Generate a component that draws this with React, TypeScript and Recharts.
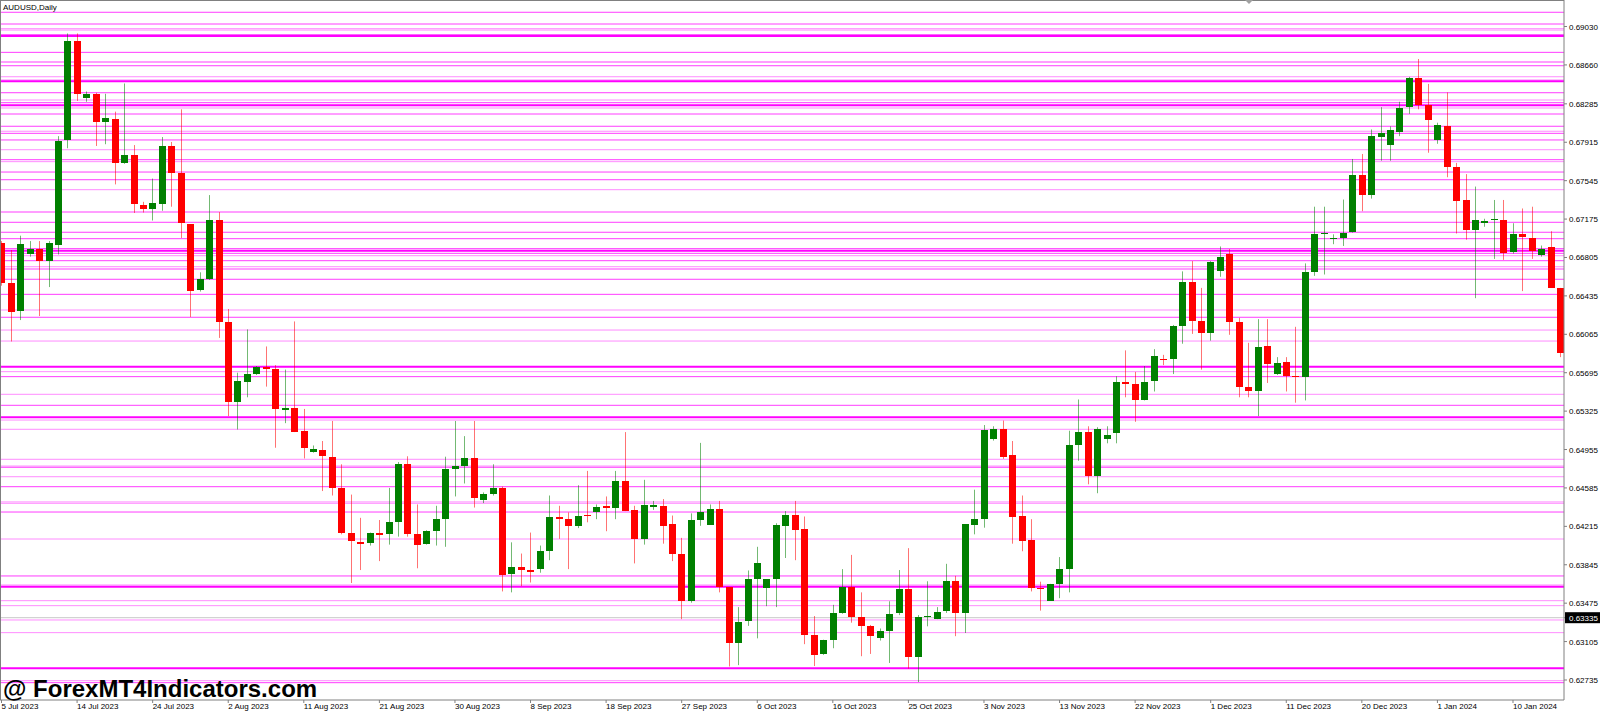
import React from 'react';
import { Bar, ComposedChart, ReferenceLine, XAxis, YAxis } from 'recharts';

// AUDUSD daily candles, one per bar (Sunday bars included)
const opens = [
  0.66942, 0.66563, 0.66288, 0.66834, 0.66886, 0.6677, 0.66933, 0.67931, 0.68889, 0.68339,
  0.68382, 0.68103, 0.68141, 0.67716, 0.67789, 0.67307, 0.67268, 0.67324, 0.67879, 0.67617,
  0.67126, 0.66499, 0.66602, 0.67169, 0.66185, 0.65419, 0.65613, 0.65682, 0.65746, 0.65733,
  0.65342, 0.65359, 0.65131, 0.64934, 0.64951, 0.64886, 0.64585, 0.64147, 0.64065, 0.64052,
  0.64155, 0.64142, 0.64254, 0.64813, 0.64138, 0.64039, 0.64168, 0.64284, 0.6477, 0.648,
  0.64873, 0.64469, 0.64525, 0.64585, 0.63751, 0.6382, 0.6379, 0.63803, 0.63975, 0.64306,
  0.64284, 0.6422, 0.64323, 0.64353, 0.64413, 0.64396, 0.64654, 0.6437, 0.64095, 0.64396,
  0.64413, 0.64233, 0.63944, 0.63493, 0.64271, 0.64233, 0.64383, 0.63631, 0.63093, 0.63295,
  0.63704, 0.63622, 0.63704, 0.64224, 0.64327, 0.6419, 0.63166, 0.62986, 0.63123, 0.63385,
  0.63631, 0.63338, 0.63252, 0.63145, 0.63213, 0.63373, 0.63609, 0.62951, 0.63338, 0.6333,
  0.63394, 0.63686, 0.63373, 0.64233, 0.64289, 0.65062, 0.65157, 0.64899, 0.6431, 0.64082,
  0.63622, 0.63502, 0.63661, 0.63803, 0.64994, 0.65123, 0.64706, 0.65058, 0.65114, 0.65609,
  0.65587, 0.65432, 0.65609, 0.65824, 0.65824, 0.66146, 0.66567, 0.66189, 0.66077, 0.66675,
  0.66834, 0.6618, 0.65557, 0.65523, 0.65953, 0.65682, 0.65798, 0.6566, 0.65652, 0.66662,
  0.67028, 0.66985, 0.66997, 0.67049, 0.67595, 0.67406, 0.67974, 0.67888, 0.68017, 0.68249,
  0.68533, 0.6827, 0.67939, 0.68072, 0.67673, 0.67359, 0.67066, 0.67144, 0.67165, 0.67169,
  0.66856, 0.67028, 0.66997, 0.66834, 0.66907, 0.66512,
];
const highs = [
  0.66963, 0.66877, 0.67015, 0.66963, 0.66963, 0.66963, 0.67974, 0.68963, 0.68963, 0.68404,
  0.68391, 0.68382, 0.6821, 0.68481, 0.67888, 0.67341, 0.67565, 0.67965, 0.67918, 0.68232,
  0.67126, 0.66662, 0.67406, 0.67242, 0.66309, 0.65695, 0.66112, 0.65759, 0.65948, 0.65768,
  0.65725, 0.66189, 0.65346, 0.64994, 0.65037, 0.6523, 0.64813, 0.64521, 0.64297, 0.64155,
  0.64276, 0.64585, 0.64835, 0.6489, 0.64426, 0.64177, 0.64413, 0.64886, 0.6523, 0.65084,
  0.6523, 0.64542, 0.64813, 0.64598, 0.64061, 0.63953, 0.64155, 0.6403, 0.64512, 0.64413,
  0.64349, 0.64611, 0.64749, 0.64426, 0.64503, 0.64749, 0.65123, 0.64413, 0.64663, 0.6446,
  0.64478, 0.64319, 0.64104, 0.6434, 0.65019, 0.64426, 0.6446, 0.63631, 0.63437, 0.6379,
  0.64018, 0.63704, 0.64245, 0.64362, 0.6446, 0.6431, 0.63351, 0.63123, 0.63459, 0.63803,
  0.6394, 0.63579, 0.63265, 0.63231, 0.63493, 0.63794, 0.64005, 0.6336, 0.63686, 0.63437,
  0.63854, 0.63738, 0.64233, 0.64568, 0.65191, 0.65179, 0.65234, 0.65037, 0.64512, 0.64284,
  0.63682, 0.63661, 0.63919, 0.65136, 0.65437, 0.65179, 0.6517, 0.65179, 0.6566, 0.6591,
  0.65703, 0.65759, 0.65922, 0.65867, 0.66155, 0.66671, 0.6677, 0.66512, 0.6677, 0.66911,
  0.66886, 0.66223, 0.65983, 0.66211, 0.66211, 0.65845, 0.65845, 0.66137, 0.66748, 0.67294,
  0.67294, 0.67028, 0.67363, 0.67754, 0.67802, 0.68038, 0.68253, 0.68068, 0.68305, 0.68545,
  0.68717, 0.68477, 0.68103, 0.68395, 0.67716, 0.67608, 0.67488, 0.67178, 0.67359, 0.67359,
  0.67135, 0.67277, 0.67294, 0.6692, 0.67058, 0.66512,
];
const lows = [
  0.66533, 0.65996, 0.66202, 0.66813, 0.66241, 0.6652, 0.66834, 0.67857, 0.68313, 0.68305,
  0.67879, 0.67896, 0.67509, 0.67707, 0.67234, 0.67238, 0.67161, 0.67255, 0.67294, 0.66993,
  0.66232, 0.66477, 0.66589, 0.6603, 0.65277, 0.65148, 0.65458, 0.65673, 0.65561, 0.64972,
  0.65209, 0.65123, 0.64869, 0.64925, 0.64555, 0.64512, 0.64138, 0.63669, 0.63794, 0.6403,
  0.6388, 0.64039, 0.64116, 0.64116, 0.63811, 0.64039, 0.6403, 0.64018, 0.64503, 0.64628,
  0.64396, 0.64439, 0.64512, 0.63588, 0.63579, 0.63639, 0.63674, 0.63768, 0.63889, 0.64095,
  0.63803, 0.64198, 0.64254, 0.64284, 0.64168, 0.64284, 0.64362, 0.63858, 0.64039, 0.64374,
  0.64048, 0.6388, 0.63321, 0.6348, 0.6422, 0.64233, 0.63579, 0.62865, 0.62878, 0.63256,
  0.63136, 0.63446, 0.63437, 0.6391, 0.63889, 0.6308, 0.62869, 0.62977, 0.63041, 0.63373,
  0.63287, 0.62964, 0.62986, 0.63115, 0.62899, 0.6336, 0.62844, 0.62715, 0.63252, 0.63321,
  0.63381, 0.63157, 0.63188, 0.64138, 0.64202, 0.65041, 0.64865, 0.64048, 0.63975, 0.63588,
  0.63403, 0.63502, 0.63523, 0.63579, 0.64847, 0.6462, 0.64534, 0.65015, 0.65015, 0.65458,
  0.65222, 0.65428, 0.65514, 0.65768, 0.65682, 0.65974, 0.66069, 0.65725, 0.66004, 0.66619,
  0.6606, 0.65458, 0.65458, 0.65277, 0.65596, 0.65673, 0.65514, 0.65406, 0.65428, 0.66628,
  0.66641, 0.66933, 0.66916, 0.67045, 0.67251, 0.67372, 0.67737, 0.67737, 0.67974, 0.68189,
  0.68232, 0.67814, 0.679, 0.67578, 0.67036, 0.66976, 0.66413, 0.67101, 0.66791, 0.66782,
  0.66843, 0.66481, 0.66791, 0.66813, 0.66512, 0.65845,
];
const closes = [
  0.66555, 0.66288, 0.66933, 0.66886, 0.6677, 0.66942, 0.67931, 0.68889, 0.68382, 0.68382,
  0.68111, 0.68146, 0.6772, 0.67789, 0.67316, 0.67264, 0.67329, 0.67879, 0.67617, 0.67131,
  0.66477, 0.66602, 0.67169, 0.66185, 0.65419, 0.65617, 0.65686, 0.65746, 0.65729, 0.65346,
  0.65359, 0.65131, 0.64964, 0.64959, 0.6489, 0.64585, 0.64147, 0.64073, 0.64048, 0.64147,
  0.64138, 0.64254, 0.64813, 0.64138, 0.6403, 0.64168, 0.64284, 0.64766, 0.648, 0.64873,
  0.6449, 0.64525, 0.64585, 0.63751, 0.6382, 0.6379, 0.63768, 0.63975, 0.64306, 0.64284,
  0.6422, 0.64314, 0.6431, 0.64405, 0.64396, 0.64654, 0.64362, 0.64095, 0.64422, 0.64418,
  0.6422, 0.6394, 0.63493, 0.64276, 0.64349, 0.64383, 0.63631, 0.63093, 0.63295, 0.63704,
  0.63858, 0.63704, 0.64224, 0.64327, 0.64181, 0.63166, 0.62977, 0.63123, 0.63385, 0.63631,
  0.63338, 0.63256, 0.63157, 0.63209, 0.63373, 0.63609, 0.62951, 0.63338, 0.63351, 0.63394,
  0.63686, 0.63373, 0.64233, 0.64289, 0.65144, 0.65157, 0.64886, 0.64306, 0.64073, 0.63622,
  0.63609, 0.63661, 0.63803, 0.64994, 0.65123, 0.64697, 0.65157, 0.65093, 0.65609, 0.65587,
  0.65432, 0.65609, 0.65854, 0.65811, 0.66146, 0.66567, 0.66189, 0.66077, 0.66765, 0.66813,
  0.6618, 0.65557, 0.65523, 0.65944, 0.65781, 0.65789, 0.6566, 0.65647, 0.66662, 0.67028,
  0.6704, 0.66993, 0.67045, 0.67595, 0.67406, 0.67974, 0.68008, 0.68029, 0.68249, 0.68533,
  0.6827, 0.68124, 0.68081, 0.67673, 0.6735, 0.67066, 0.67165, 0.67161, 0.67174, 0.66847,
  0.67028, 0.66997, 0.66869, 0.6689, 0.66512, 0.65888,
];

// date axis: bar index -> label
const dateTickBars = [0, 8, 16, 24, 32, 40, 48, 56, 64, 72, 80, 88, 96, 104, 112, 120, 128, 136, 144, 152, 160];
const dateTickLabels = [
  '5 Jul 2023', '14 Jul 2023', '24 Jul 2023', '2 Aug 2023', '11 Aug 2023', '21 Aug 2023',
  '30 Aug 2023', '8 Sep 2023', '18 Sep 2023', '27 Sep 2023', '6 Oct 2023', '16 Oct 2023',
  '25 Oct 2023', '3 Nov 2023', '13 Nov 2023', '22 Nov 2023', '1 Dec 2023', '11 Dec 2023',
  '20 Dec 2023', '1 Jan 2024', '10 Jan 2024',
];

const priceTicks = [
  0.6903, 0.6866, 0.68285, 0.67915, 0.67545, 0.67175, 0.66805, 0.66435, 0.66065,
  0.65695, 0.65325, 0.64955, 0.64585, 0.64215, 0.63845, 0.63475, 0.63105, 0.62735,
];
const currentPrice = 0.63335;

// horizontal level lines
const boldLevels = [0.68939, 0.68502, 0.68271, 0.6687, 0.65753, 0.65265, 0.63634, 0.62848];
const mainLevels = [
  0.69167, 0.69054, 0.68951, 0.68781, 0.68688, 0.68652, 0.68392, 0.68296, 0.68187, 0.68069,
  0.68001, 0.67937, 0.67747, 0.67628, 0.67554, 0.67243, 0.67144, 0.67048, 0.66986, 0.6689,
  0.66845, 0.66774, 0.66694, 0.66595, 0.6645, 0.66229, 0.65657, 0.65381, 0.64784, 0.64597,
  0.64353, 0.63737, 0.62709,
];
const paleLevels = [
  0.69009, 0.68996, 0.68546, 0.68515, 0.68322, 0.68245, 0.68021, 0.67843, 0.67728, 0.67458,
  0.66822, 0.66716, 0.66299, 0.66106, 0.66, 0.65705, 0.65487, 0.65239, 0.6515, 0.64861,
  0.64796, 0.64693, 0.6445, 0.64437, 0.64093, 0.6365, 0.63499, 0.63451, 0.63313, 0.63191,
  0.62728,
];

const data = opens.map((o, i) => ({ i, open: o, high: highs[i], low: lows[i], close: closes[i] }));

const FONT = "'Liberation Sans', Arial, sans-serif";
const W = 1600;
const H = 713;

const Candle = (props: any) => {
  const { x, y, width, height, payload } = props;
  if (x == null || y == null || !payload) return null;
  const { open, close, high, low } = payload;
  const top = Math.min(y, y + height);
  const h = Math.abs(height);
  const span = high - low || 1e-9;
  const toY = (v: number) => top + ((high - v) / span) * h;
  const color = close >= open ? '#008000' : '#ff0000';
  const cx = Math.round(x + width / 2);
  const yo = toY(open);
  const yc = toY(close);
  const bodyTop = Math.round(Math.min(yo, yc));
  const bodyH = Math.max(1, Math.round(Math.abs(yc - yo)));
  return (
    <g>
      <line x1={cx + 0.5} x2={cx + 0.5} y1={top} y2={top + h} stroke={color} strokeOpacity={0.55} />
      <rect x={cx - 3} y={bodyTop} width={7} height={bodyH} fill={color} />
    </g>
  );
};

const PriceTick = ({ x, y, payload }: any) => {
  const v = Number(payload?.value);
  if (Math.abs(v - currentPrice) < 1e-7) {
    return (
      <g>
        <rect x={x - 4} y={y - 5.5} width={W - x + 4} height={11} fill="#000" />
        <text x={x} y={y + 3} fill="#fff" fontSize={8} fontFamily={FONT}>{v.toFixed(5)}</text>
      </g>
    );
  }
  return (
    <text x={x} y={y + 3} fill="#000" fontSize={8} fontFamily={FONT}>{v.toFixed(5)}</text>
  );
};

const DateTick = ({ x, y, payload }: any) => {
  const idx = dateTickBars.indexOf(Number(payload?.value));
  return (
    <text x={x} y={y + 6} fill="#000" fontSize={8} fontFamily={FONT} textAnchor="start">
      {idx >= 0 ? dateTickLabels[idx] : ''}
    </text>
  );
};

export default function App() {
  return (
    <div style={{ position: 'relative', width: W, height: H, background: '#fff', overflow: 'hidden' }}>
      <style>{'body{margin:0}'}</style>
      <ComposedChart width={W} height={H} data={data} margin={{ top: 0, right: 0, bottom: 0, left: 0 }}>
        <XAxis
          dataKey="i"
          type="number"
          domain={[-0.16, 165.4]}
          allowDataOverflow
          ticks={dateTickBars}
          interval={0}
          height={13}
          tickSize={3}
          tickMargin={0}
          tick={<DateTick />}
          axisLine={{ stroke: '#808080' }}
          tickLine={{ stroke: '#808080' }}
        />
        <YAxis
          orientation="right"
          type="number"
          domain={[0.625422, 0.692853]}
          allowDataOverflow
          ticks={[...priceTicks, currentPrice]}
          interval={0}
          width={36}
          tickSize={3}
          tickMargin={2}
          tick={<PriceTick />}
          axisLine={{ stroke: '#808080' }}
          tickLine={{ stroke: '#808080' }}
        />

        {paleLevels.map((v) => (
          <ReferenceLine key={'p' + v} y={v} stroke="#ff8cff" strokeWidth={1} zIndex={50} />
        ))}
        {mainLevels.map((v) => (
          <ReferenceLine key={'m' + v} y={v} stroke="#ff3cff" strokeWidth={1} zIndex={50} />
        ))}
        {boldLevels.map((v) => (
          <ReferenceLine key={'b' + v} y={v} stroke="#ff00ff" strokeWidth={2} zIndex={50} />
        ))}
        <ReferenceLine y={currentPrice} stroke="#c8c8c8" strokeWidth={1} zIndex={60} />

        <Bar
          dataKey={(d: any) => [d.low, d.high]}
          barSize={7}
          shape={(p: any) => <Candle {...p} />}
          isAnimationActive={false}
        />
      </ComposedChart>

      <svg width={W} height={H} style={{ position: 'absolute', left: 0, top: 0, pointerEvents: 'none' }}>
        <line x1={0} x2={1564} y1={0.5} y2={0.5} stroke="#808080" />
        <line x1={0.5} x2={0.5} y1={0} y2={700} stroke="#808080" />
        <polygon points="1245,0 1253,0 1249,4" fill="#a0a0a0" />
        <text x={3} y={10} fontSize={8} fontFamily={FONT} fill="#000">AUDUSD,Daily</text>
        <text x={3} y={697} fontSize={24} fontWeight="bold" fontFamily={FONT} fill="#000">
          @ ForexMT4Indicators.com
        </text>
      </svg>
    </div>
  );
}
